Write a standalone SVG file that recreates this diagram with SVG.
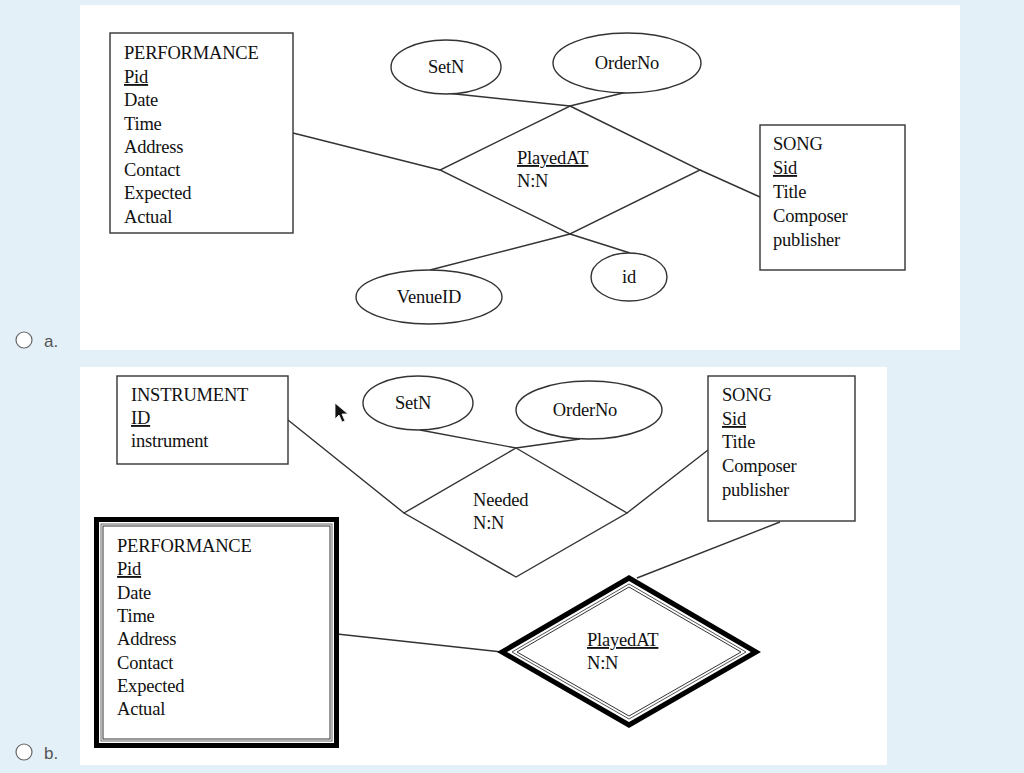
<svg xmlns="http://www.w3.org/2000/svg" width="1024" height="773" viewBox="0 0 1024 773">
<style>
.t{font-family:"Liberation Serif",serif;font-size:18.5px;fill:#111;letter-spacing:-0.2px}
.u{text-decoration:underline}
.s{fill:#fff;stroke:#333;stroke-width:1.4}
.l{stroke:#333;stroke-width:1.4;fill:none}
.r{font-family:"Liberation Sans",sans-serif;font-size:17px;fill:#555}
</style>
<rect width="1024" height="773" fill="#e4f0f7"/>
<rect x="80" y="5" width="880" height="345" fill="#fff"/>
<rect x="80" y="367" width="807" height="398" fill="#fff"/>
<circle cx="24" cy="340" r="8" fill="#fff" stroke="#666" stroke-width="1.2"/>
<text class="r" x="44" y="347">a.</text>
<circle cx="24" cy="752" r="8" fill="#fff" stroke="#666" stroke-width="1.2"/>
<text class="r" x="44" y="759">b.</text>
<g id="connectors">
<path class="l" d="M446,93L570,106M627,92L570,106M293,133L440,170M700,170L760,197M570,234L430,270M570,234L630,253"/>
<path class="l" d="M420,430L516,448M580,439L516,448M288,420L404,513M627,513L708,450M337,634L502,652M780,522L637,578"/>
</g>
<g id="a-performance"><rect class="s" x="110" y="33" width="183" height="200"/>
<text class="t" x="124" y="59">PERFORMANCE</text><text class="t u" x="124" y="83">Pid</text><text class="t" x="124" y="106">Date</text><text class="t" x="124" y="130">Time</text><text class="t" x="124" y="153">Address</text><text class="t" x="124" y="176">Contact</text><text class="t" x="124" y="199">Expected</text><text class="t" x="124" y="223">Actual</text></g>
<g id="a-setn"><ellipse class="s" cx="446" cy="67" rx="55" ry="27"/><text class="t" x="446" y="73" text-anchor="middle">SetN</text></g>
<g id="a-orderno"><ellipse class="s" cx="627" cy="63" rx="74" ry="30"/><text class="t" x="627" y="69" text-anchor="middle">OrderNo</text></g>
<g id="a-playedat"><polygon class="s" points="570,106 700,170 570,234 440,170"/><text class="t u" x="517" y="164">PlayedAT</text><text class="t" x="517" y="187">N:N</text></g>
<g id="a-song"><rect class="s" x="760" y="125" width="145" height="145"/>
<text class="t" x="773" y="150">SONG</text><text class="t u" x="773" y="174">Sid</text><text class="t" x="773" y="198">Title</text><text class="t" x="773" y="222">Composer</text><text class="t" x="773" y="246">publisher</text></g>
<g id="a-venueid"><ellipse class="s" cx="429" cy="297" rx="73" ry="27"/><text class="t" x="429" y="303" text-anchor="middle">VenueID</text></g>
<g id="a-id"><ellipse class="s" cx="629" cy="277" rx="38" ry="24"/><text class="t" x="629" y="283" text-anchor="middle">id</text></g>

<g id="b-instrument"><rect class="s" x="117" y="376" width="171" height="88"/>
<text class="t" x="131" y="401">INSTRUMENT</text><text class="t u" x="131" y="424">ID</text><text class="t" x="131" y="447">instrument</text></g>
<path d="M335,403l0,16l4,-4l3,7l3,-1l-3,-7l6,0z" fill="#111" stroke="#fff" stroke-width="0.8"/>
<g id="b-setn"><ellipse class="s" cx="418" cy="403" rx="55" ry="27"/><text class="t" x="413" y="409" text-anchor="middle">SetN</text></g>
<g id="b-orderno"><ellipse class="s" cx="589" cy="410" rx="73" ry="29"/><text class="t" x="585" y="416" text-anchor="middle">OrderNo</text></g>
<g id="b-needed"><polygon class="s" points="516,448 627,513 516,577 404,513"/><text class="t" x="473" y="506">Needed</text><text class="t" x="473" y="529">N:N</text></g>
<g id="b-song"><rect class="s" x="708" y="376" width="147" height="145"/>
<text class="t" x="722" y="401">SONG</text><text class="t u" x="722" y="425">Sid</text><text class="t" x="722" y="448">Title</text><text class="t" x="722" y="472">Composer</text><text class="t" x="722" y="496">publisher</text></g>
<g id="b-performance"><rect x="96.5" y="519.5" width="240" height="226" fill="#fff" stroke="#000" stroke-width="5"/>
<rect x="101" y="524" width="231" height="217" fill="none" stroke="#666" stroke-width="1"/>
<rect x="103" y="526" width="227" height="213" fill="none" stroke="#333" stroke-width="1"/>
<text class="t" x="117" y="552">PERFORMANCE</text><text class="t u" x="117" y="575">Pid</text><text class="t" x="117" y="599">Date</text><text class="t" x="117" y="622">Time</text><text class="t" x="117" y="645">Address</text><text class="t" x="117" y="669">Contact</text><text class="t" x="117" y="692">Expected</text><text class="t" x="117" y="715">Actual</text></g>
<g id="b-playedat"><polygon points="629,578 756,652 629,725 502,652" fill="#fff" stroke="#000" stroke-width="5" stroke-linejoin="miter"/>
<polygon points="629,584 746,652 629,719 512,652" fill="none" stroke="#555" stroke-width="1"/>
<polygon points="629,587 741,652 629,716 517,652" fill="none" stroke="#333" stroke-width="1"/>
<text class="t u" x="587" y="646">PlayedAT</text><text class="t" x="587" y="669">N:N</text></g>
</svg>
